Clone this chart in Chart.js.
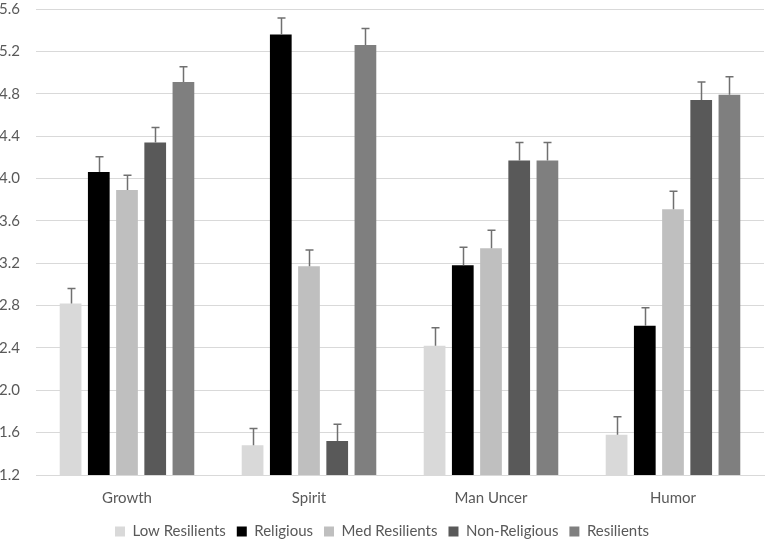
<!DOCTYPE html>
<html>
<head>
<meta charset="utf-8">
<script src="https://cdn.jsdelivr.net/npm/chart.js@4"></script>
<style>
  html, body { margin: 0; padding: 0; background: #fff; }
  #wrap { width: 765px; height: 542px; }
</style>
</head>
<body>
<div id="wrap"><canvas id="myChart"></canvas></div>
<script>
var categories = ['Growth', 'Spirit', 'Man Uncer', 'Humor'];
var seriesNames = ['Low Resilients', 'Religious', 'Med Resilients', 'Non-Religious', 'Resilients'];

var lowResilients = [2.82, 1.48, 2.42, 1.58];
var religious     = [4.06, 5.36, 3.18, 2.61];
var medResilients = [3.89, 3.17, 3.34, 3.71];
var nonReligious  = [4.34, 1.52, 4.17, 4.74];
var resilients    = [4.91, 5.26, 4.17, 4.79];

var lowResilientsErr = [0.14, 0.16, 0.17, 0.17];
var religiousErr     = [0.145, 0.155, 0.17, 0.17];
var medResilientsErr = [0.14, 0.155, 0.17, 0.17];
var nonReligiousErr  = [0.14, 0.16, 0.17, 0.17];
var resilientsErr    = [0.145, 0.155, 0.17, 0.17];

var yTicks = [1.2, 1.6, 2.0, 2.4, 2.8, 3.2, 3.6, 4.0, 4.4, 4.8, 5.2, 5.6];

var colours = ['#d9d9d9', '#000000', '#bfbfbf', '#595959', '#7f7f7f'];
var values = [lowResilients, religious, medResilients, nonReligious, resilients];
var errors = [lowResilientsErr, religiousErr, medResilientsErr, nonReligiousErr, resilientsErr];

var datasets = [];
for (var i = 0; i < seriesNames.length; i++) {
    datasets.push({
        label: seriesNames[i],
        data: values[i],
        errors: errors[i],
        backgroundColor: colours[i],
        borderWidth: 0,
        barPercentage: 0.77,
        categoryPercentage: 0.775
    });
}

// error bars (plus side only), drawn from the bar tops
var errorBars = {
    id: 'errorBars',
    afterDatasetsDraw: function(chart) {
        var ctx = chart.ctx;
        var yScale = chart.scales.y;
        ctx.save();
        ctx.strokeStyle = '#707070';
        ctx.lineWidth = 1.5;
        chart.data.datasets.forEach(function(ds, di) {
            var meta = chart.getDatasetMeta(di);
            meta.data.forEach(function(bar, j) {
                var top = yScale.getPixelForValue(ds.data[j] + ds.errors[j]);
                var x = Math.round(bar.x) + 0.5;
                ctx.beginPath();
                ctx.moveTo(x, bar.y);
                ctx.lineTo(x, top);
                ctx.moveTo(x - 4, top);
                ctx.lineTo(x + 4, top);
                ctx.stroke();
            });
        });
        ctx.restore();
    }
};

Chart.defaults.font.family = 'Lato, "Open Sans", sans-serif';
Chart.defaults.font.size = 15;
Chart.defaults.color = '#595959';

var ctx = document.getElementById('myChart');
var myChart = new Chart(ctx, {
    type: 'bar',
    data: {
        labels: categories,
        datasets: datasets
    },
    options: {
        responsive: true,
        maintainAspectRatio: false,
        animation: false,
        layout: { padding: { left: 0, right: 1, top: 0, bottom: -7 } },
        plugins: {
            legend: {
                position: 'bottom',
                labels: { boxWidth: 10, boxHeight: 10, padding: 11 }
            },
            tooltip: { enabled: false }
        },
        scales: {
            x: {
                grid: { display: false, drawTicks: false },
                border: { color: '#d9d9d9' },
                ticks: { padding: 14 },
                afterFit: function(scale) { scale.height = 38; }
            },
            y: {
                min: 1.2,
                max: 5.6,
                afterBuildTicks: function(axis) {
                    axis.ticks = yTicks.map(function(v) { return { value: v }; });
                },
                ticks: {
                    padding: 16,
                    callback: function(v) { return Number(v).toFixed(1); }
                },
                grid: { color: '#d9d9d9', drawTicks: false },
                border: { display: false },
                afterFit: function(scale) {
                    scale.width = 36;
                    scale.paddingTop = 9;
                }
            }
        }
    },
    plugins: [errorBars]
});
</script>
</body>
</html>
